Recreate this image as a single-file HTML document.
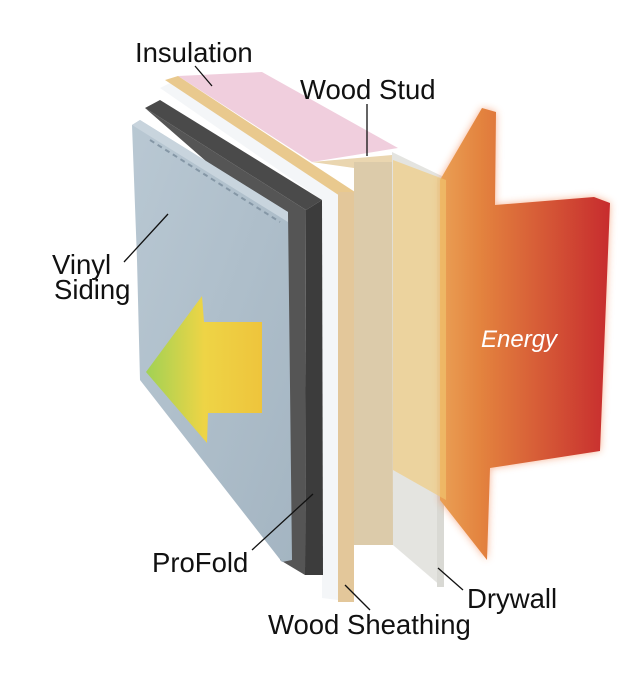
<!DOCTYPE html>
<html><head><style>
html,body{margin:0;padding:0;background:#fff;}
svg{display:block;}
text{font-family:"Liberation Sans",sans-serif;fill:#111;}
</style></head><body>
<svg width="642" height="696" viewBox="0 0 642 696" xmlns="http://www.w3.org/2000/svg">
<defs>
<linearGradient id="org" x1="0" y1="0" x2="1" y2="0">
<stop offset="0" stop-color="#eaa055"/><stop offset="0.25" stop-color="#e3823e"/><stop offset="1" stop-color="#c72c2e"/>
</linearGradient>
<linearGradient id="yel" x1="0" y1="0" x2="1" y2="0">
<stop offset="0" stop-color="#9fd34a"/><stop offset="0.5" stop-color="#f3d63a"/><stop offset="1" stop-color="#f4c530"/>
</linearGradient>
<linearGradient id="sid" x1="0" y1="0" x2="1" y2="1">
<stop offset="0" stop-color="#b9c8d3"/><stop offset="1" stop-color="#a4b5c2"/>
</linearGradient>
<filter id="glow" x="-20%" y="-20%" width="140%" height="140%"><feGaussianBlur stdDeviation="4"/></filter>
</defs>
<polygon points="178,76 262,72 398,148 312,162" fill="#f0cedd"/>
<polygon points="160,88 172,82 340,192 338,600 322,598 322,200" fill="#f4f6f8"/>
<polygon points="165,80 178,76 355,192 340,196" fill="#e9c98e"/>
<rect x="338" y="192" width="16" height="410" fill="#e3c79a"/>
<polygon points="312,162 392,155 398,162 354,168" fill="#ead6b0"/>
<rect x="354" y="162" width="39" height="383" fill="#dccbaa"/>
<polygon points="392,152 446,178 442,587 393,545" fill="#e4e4e0"/>
<rect x="437" y="178" width="7" height="409" fill="#d9d9d4"/>
<polygon points="440,180 482,108 496,112 495,205 594,197 610,203 600,451 490,468 487,560 440,500" fill="#f06a2a" filter="url(#glow)" opacity="0.5"/>
<polygon points="440,180 482,108 496,112 495,205 594,197 610,203 600,451 490,468 487,560 440,500" fill="url(#org)"/>
<polygon points="393,160 446,180 446,500 393,470" fill="#f2c872" opacity="0.6"/>
<text x="481" y="347" font-size="24" font-style="italic" style="fill:#fff">Energy</text>
<polygon points="145,108 160,100 322,200 306,210" fill="#4a4a4a"/>
<polygon points="306,210 322,200 323,575 305,575" fill="#3c3c3c"/>
<polygon points="145,108 306,210 305,575 280,560 285,230" fill="#555"/>
<polygon points="132,125 140,120 288,212 292,560 282,562 140,380 137,260" fill="url(#sid)"/>
<polygon points="132,125 140,120 288,212 288,222" fill="#c8d4dd"/>
<line x1="150" y1="140" x2="280" y2="222" stroke="#8597a6" stroke-width="2" stroke-dasharray="5,4"/>
<polygon points="146,372 202,296 204,322 262,322 262,413 208,413 207,443" fill="url(#yel)" opacity="0.92"/>
<g stroke="#111" stroke-width="1.3">
<line x1="195" y1="66" x2="212" y2="86"/>
<line x1="367" y1="104" x2="367" y2="156"/>
<line x1="124" y1="262" x2="168" y2="214"/>
<line x1="252" y1="550" x2="313" y2="494"/>
<line x1="345" y1="585" x2="370" y2="610"/>
<line x1="438" y1="568" x2="463" y2="590"/>
</g>
<g font-size="27.5">
<text x="135" y="62">Insulation</text>
<text x="300" y="99">Wood Stud</text>
<text x="52" y="274">Vinyl</text>
<text x="54" y="299">Siding</text>
<text x="152" y="572">ProFold</text>
<text x="467" y="608">Drywall</text>
<text x="268" y="634">Wood Sheathing</text>
</g>
</svg>
</body></html>
